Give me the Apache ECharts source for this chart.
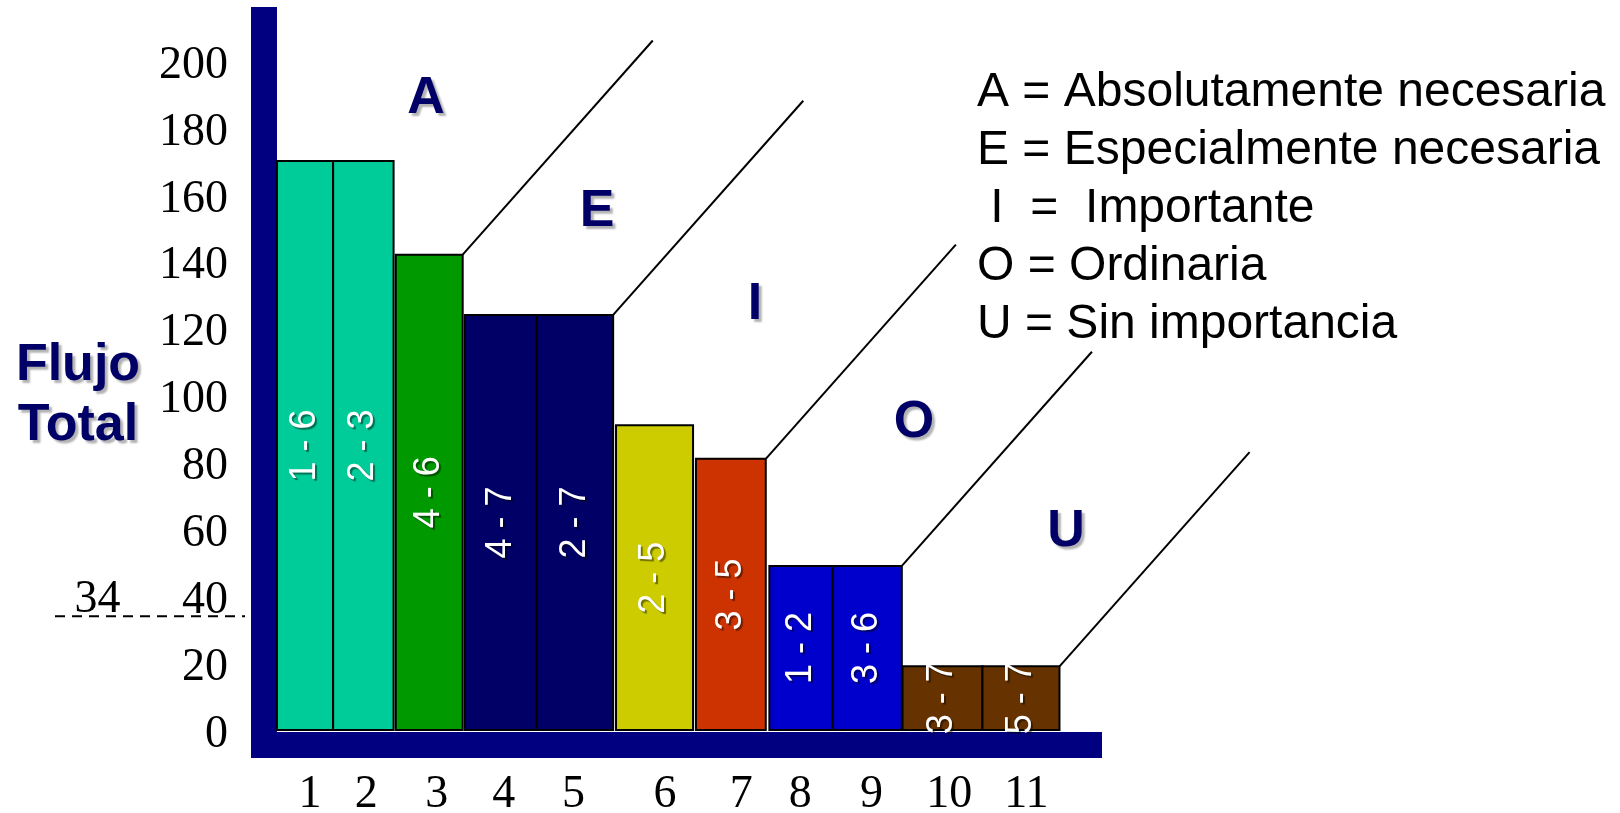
<!DOCTYPE html>
<html>
<head>
<meta charset="utf-8">
<title>Flujo total</title>
<script src="https://cdn.jsdelivr.net/npm/echarts@6/dist/echarts.min.js"></script>
<style>
  html, body { margin: 0; padding: 0; background: #fff; }
  #chart { width: 1620px; height: 813px; }
</style>
</head>
<body>
<div id="chart"></div>
<script>
// pares de departamentos (texto dentro de cada barra)
const pairs = ['1 - 6', '2 - 3', '4 - 6', '4 - 7', '2 - 7', '2 - 5', '3 - 5', '1 - 2', '3 - 6', '3 - 7', '5 - 7'];
// flujo total de cada par
const flows = [170, 170, 142, 124, 124, 91, 81, 49, 49, 19, 19];
// inicio y fin de cada barra sobre el eje x
const barFrom = [0.18, 0.96, 1.83, 2.79, 3.79, 4.89, 6.00, 7.02, 7.90, 8.87, 9.98];
const barTo = [0.96, 1.80, 2.76, 3.79, 4.85, 5.96, 6.97, 7.90, 8.86, 9.98, 11.05];
// rótulos del eje x y donde van
const xLabels = ['1', '2', '3', '4', '5', '6', '7', '8', '9', '10', '11'];
const xLabelAt = [0.64, 1.42, 2.40, 3.33, 4.30, 5.57, 6.63, 7.45, 8.44, 9.52, 10.59];
// rótulos del eje y
const yTicks = [0, 20, 40, 60, 80, 100, 120, 140, 160, 180, 200];
// límite marcado con la línea discontinua
const threshold = 34;
// última barra de cada clase (A, E, I, O, U)
const classEnds = [2, 4, 6, 8, 10];
const classNames = ['A', 'E', 'I', 'O', 'U'];
const legendLines = [
  'A = Absolutamente necesaria',
  'E = Especialmente necesaria',
  ' I  =  Importante',
  'O = Ordinaria',
  'U = Sin importancia'
];

const barColors = ['#00cc99', '#00cc99', '#009900', '#000066', '#000066', '#cccc00', '#cc3300', '#0000cc', '#0000cc', '#663300', '#663300'];
const navy = '#000080';
const letterColor = '#000066';
const serif = '"Liberation Serif", "Times New Roman", serif';
const sans = '"Liberation Sans", Arial, sans-serif';

// inclinación de las líneas que separan las clases
const diagDx = 2.64;
const diagDy = 64;

const chart = echarts.init(document.getElementById('chart'));

function renderBar(params, api) {
  const i = params.dataIndex;
  const tl = api.coord([api.value(0), api.value(2)]);
  const br = api.coord([api.value(1), 0]);
  const w = br[0] - tl[0];
  const h = br[1] - tl[1];
  return {
    type: 'group',
    children: [
      {
        type: 'rect',
        shape: { x: tl[0], y: tl[1], width: w, height: h },
        style: { fill: barColors[i], stroke: '#000', lineWidth: 2 }
      },
      {
        type: 'text',
        x: tl[0] + w / 2,
        y: tl[1] + h / 2,
        rotation: Math.PI / 2,
        style: {
          text: pairs[i],
          fill: '#fff',
          font: '36px ' + sans,
          align: 'center',
          verticalAlign: 'middle',
          textShadowColor: 'rgba(0,0,0,0.45)',
          textShadowBlur: 1,
          textShadowOffsetX: 2,
          textShadowOffsetY: 2
        }
      }
    ]
  };
}

// líneas inclinadas desde la esquina superior derecha de cada clase
// (en una rejilla más ancha con la misma escala, para que no se corten)
const diagSeries = classEnds.map(i => ({
  type: 'line',
  xAxisIndex: 2,
  yAxisIndex: 2,
  showSymbol: false,
  silent: true,
  lineStyle: { color: '#000', width: 2 },
  data: [[barTo[i], flows[i]], [barTo[i] + diagDx, flows[i] + diagDy]],
  z: 3
}));

const letterPos = [[426, 99], [597, 212], [755, 305], [914, 423], [1066, 532]];

const graphics = [];
classNames.forEach((c, k) => {
  graphics.push({
    type: 'text',
    x: letterPos[k][0],
    y: letterPos[k][1],
    style: {
      text: c,
      font: 'bold 52px ' + sans,
      fill: letterColor,
      align: 'center',
      verticalAlign: 'middle',
      textAlign: 'center',
      textVerticalAlign: 'middle',
      textShadowColor: 'rgba(0,0,0,0.3)',
      textShadowBlur: 2,
      textShadowOffsetX: 3,
      textShadowOffsetY: 3
    }
  });
});
legendLines.forEach((t, k) => {
  graphics.push({
    type: 'text',
    x: 977,
    y: 93 + k * 58,
    style: {
      text: t,
      font: '48px ' + sans,
      fill: '#000',
      align: 'left',
      verticalAlign: 'middle',
      textAlign: 'left',
      textVerticalAlign: 'middle'
    }
  });
});
['Flujo', 'Total'].forEach((t, k) => {
  graphics.push({
    type: 'text',
    x: 78,
    y: 366 + k * 60,
    style: {
      text: t,
      font: 'bold 52px ' + sans,
      fill: letterColor,
      align: 'center',
      verticalAlign: 'middle',
      textAlign: 'center',
      textVerticalAlign: 'middle',
      textShadowColor: 'rgba(0,0,0,0.3)',
      textShadowBlur: 2,
      textShadowOffsetX: 3,
      textShadowOffsetY: 3
    }
  });
});

const option = {
  animation: false,
  backgroundColor: '#fff',
  grid: [
    { left: 264, right: 531, top: 7, bottom: 68, outerBoundsMode: 'none' },
    { left: 55, width: 190, top: 7, bottom: 68, outerBoundsMode: 'none' },
    { left: 264, right: 320, top: 7, bottom: 68, outerBoundsMode: 'none' }
  ],
  xAxis: [
    {
      type: 'value',
      gridIndex: 0,
      min: 0,
      max: 11.46,
      axisLine: { onZero: false, lineStyle: { color: navy, width: 26, cap: 'square' } },
      axisTick: { show: false },
      splitLine: { show: false },
      axisLabel: {
        customValues: xLabelAt,
        formatter: v => xLabels[xLabelAt.indexOf(v)],
        color: '#000',
        fontFamily: serif,
        fontSize: 46,
        margin: 50,
        verticalAlign: 'middle'
      }
    },
    { type: 'value', gridIndex: 1, min: 0, max: 1, show: false },
    { type: 'value', gridIndex: 2, min: 0, max: 14.39, show: false }
  ],
  yAxis: [
    {
      type: 'value',
      gridIndex: 0,
      min: -4.5,
      max: 216,
      axisLine: { show: true, onZero: false, lineStyle: { color: navy, width: 26, cap: 'butt' } },
      axisTick: { show: false },
      splitLine: { show: false },
      axisLabel: {
        customValues: yTicks,
        color: '#000',
        fontFamily: serif,
        fontSize: 46,
        margin: 36,
        verticalAlign: 'top',
        lineHeight: 10
      }
    },
    { type: 'value', gridIndex: 1, min: -4.5, max: 216, show: false },
    { type: 'value', gridIndex: 2, min: -4.5, max: 216, show: false }
  ],
  series: [
    {
      type: 'custom',
      xAxisIndex: 0,
      yAxisIndex: 0,
      renderItem: renderBar,
      encode: { x: [0, 1], y: 2 },
      data: flows.map((v, i) => [barFrom[i], barTo[i], v]),
      z: 4
    },
    ...diagSeries,
    {
      type: 'line',
      xAxisIndex: 1,
      yAxisIndex: 1,
      showSymbol: false,
      silent: true,
      lineStyle: { color: '#000', width: 2, type: [10, 7] },
      data: [[0, threshold], [1, threshold]],
      markPoint: {
        symbol: 'circle',
        symbolSize: 0,
        silent: true,
        data: [{ coord: [0.224, threshold], value: threshold }],
        label: {
          show: true,
          formatter: '{c}',
          position: 'inside',
          offset: [0, -16],
          color: '#000',
          fontFamily: serif,
          fontSize: 46
        }
      }
    }
  ],
  graphic: graphics
};

chart.setOption(option);
</script>
</body>
</html>
